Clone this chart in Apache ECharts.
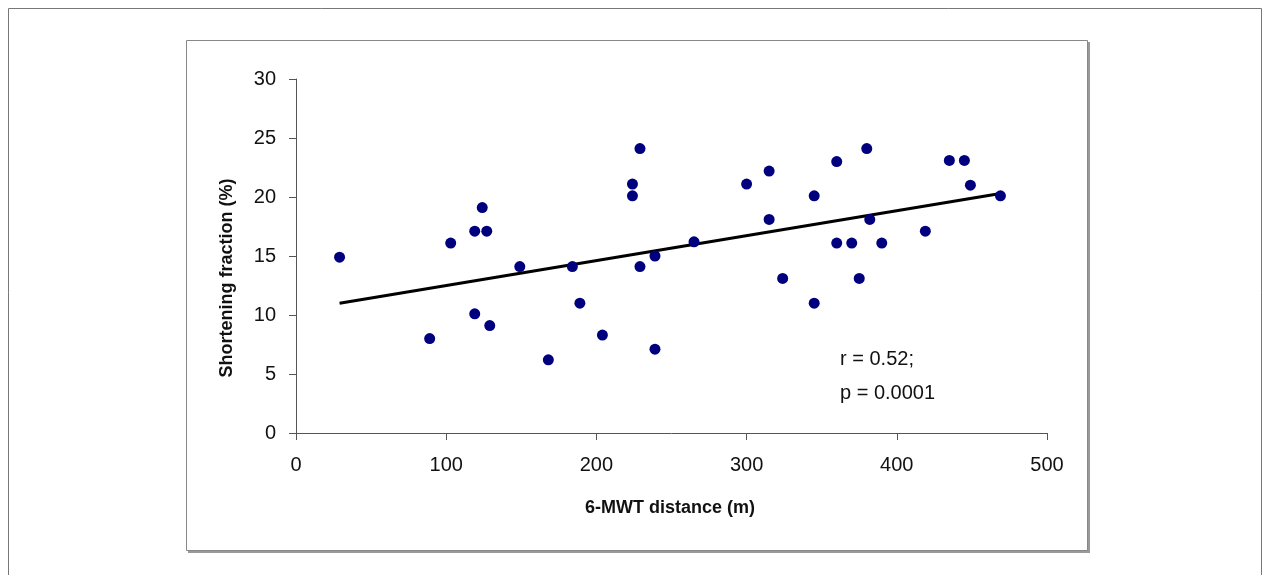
<!DOCTYPE html>
<html>
<head>
<meta charset="utf-8">
<script src="https://cdn.jsdelivr.net/npm/echarts@6/dist/echarts.min.js"></script>
<style>
  html, body { margin: 0; padding: 0; background: #fff; }
  #main { width: 1266px; height: 575px; }
</style>
</head>
<body>
<div id="main"></div>
<script>
// 6-MWT distance (m) vs shortening fraction (%)
var distance = [29, 89, 103, 119, 124, 127, 119, 129, 149, 168,
  184, 189, 204, 229, 224, 224, 229, 239, 239, 265, 300, 315, 315,
  324, 345, 345, 360, 360, 370, 380, 382, 375, 390, 419, 435, 445, 449, 469];
var shortening = [14.9, 8.0, 16.1, 17.1, 19.1, 17.1, 10.1, 9.1, 14.1, 6.2,
  14.1, 11.0, 8.3, 24.1, 21.1, 20.1, 14.1, 15.0, 7.1, 16.2, 21.1, 22.2, 18.1,
  13.1, 20.1, 11.0, 23.0, 16.1, 16.1, 24.1, 18.1, 13.1, 16.1, 17.1, 23.1, 23.1, 21.0, 20.1];
// trend line end points
var trendX = [29, 469];
var trendY = [11.0, 20.3];
var xTicks = [0, 100, 200, 300, 400, 500];
var yTicks = [0, 5, 10, 15, 20, 25, 30];
var statsText = ['r = 0.52;', 'p = 0.0001'];

var points = distance.map(function (d, i) { return [d, shortening[i]]; });
var trend = trendX.map(function (d, i) { return [d, trendY[i]]; });

var chart = echarts.init(document.getElementById('main'));
var font = 'Liberation Sans, Arial, sans-serif';
var axisLine = { show: true, lineStyle: { color: '#555', width: 1 } };
var tickLabel = { color: '#111', fontSize: 20, fontFamily: font };

chart.setOption({
  animation: false,
  backgroundColor: '#fff',
  graphic: [
    { type: 'rect', shape: { x: 8.5, y: 8.5, width: 1253, height: 580 },
      style: { fill: 'none', stroke: '#777', lineWidth: 1 } },
    // small shadow of the inner box
    { type: 'rect', shape: { x: 188, y: 42, width: 902, height: 511 },
      style: { fill: '#999' } },
    { type: 'rect', shape: { x: 186.5, y: 40.5, width: 901, height: 510 },
      style: { fill: '#fff', stroke: '#888', lineWidth: 1 } },
    { type: 'text', x: 840, y: 376, z: 10,
      style: { text: statsText.join('\n'), fontSize: 20, lineHeight: 34,
        fontFamily: font, fill: '#111', verticalAlign: 'middle' } },
    { type: 'text', x: 670, y: 508, z: 10,
      style: { text: '6-MWT distance (m)', fontSize: 18, fontWeight: 'bold',
        fontFamily: font, fill: '#111', align: 'center', verticalAlign: 'middle' } },
    { type: 'text', x: 227, y: 278, rotation: Math.PI / 2, z: 10,
      style: { text: 'Shortening fraction (%)', fontSize: 18, fontWeight: 'bold',
        fontFamily: font, fill: '#111', align: 'center', verticalAlign: 'middle' } }
  ],
  grid: { left: 296, top: 79, width: 751, height: 354 },
  xAxis: {
    type: 'value', min: 0, max: 500, interval: 100,
    axisLine: axisLine,
    axisTick: { show: true, length: 7, lineStyle: { color: '#555' } },
    axisLabel: Object.assign({ margin: 22, formatter: function (v) { return xTicks.indexOf(v) >= 0 ? v : ''; } }, tickLabel),
    splitLine: { show: false }
  },
  yAxis: {
    type: 'value', min: 0, max: 30, interval: 5,
    axisLine: axisLine,
    axisTick: { show: true, length: 7, lineStyle: { color: '#555' } },
    axisLabel: Object.assign({ margin: 20, formatter: function (v) { return yTicks.indexOf(v) >= 0 ? v : ''; } }, tickLabel),
    splitLine: { show: false }
  },
  series: [
    {
      type: 'line', data: trend, symbol: 'none', z: 2,
      lineStyle: { color: '#000', width: 3 }
    },
    {
      type: 'scatter', data: points, symbol: 'circle', symbolSize: 11, z: 3,
      itemStyle: { color: '#00007f', opacity: 1 }
    }
  ]
});
</script>
</body>
</html>
